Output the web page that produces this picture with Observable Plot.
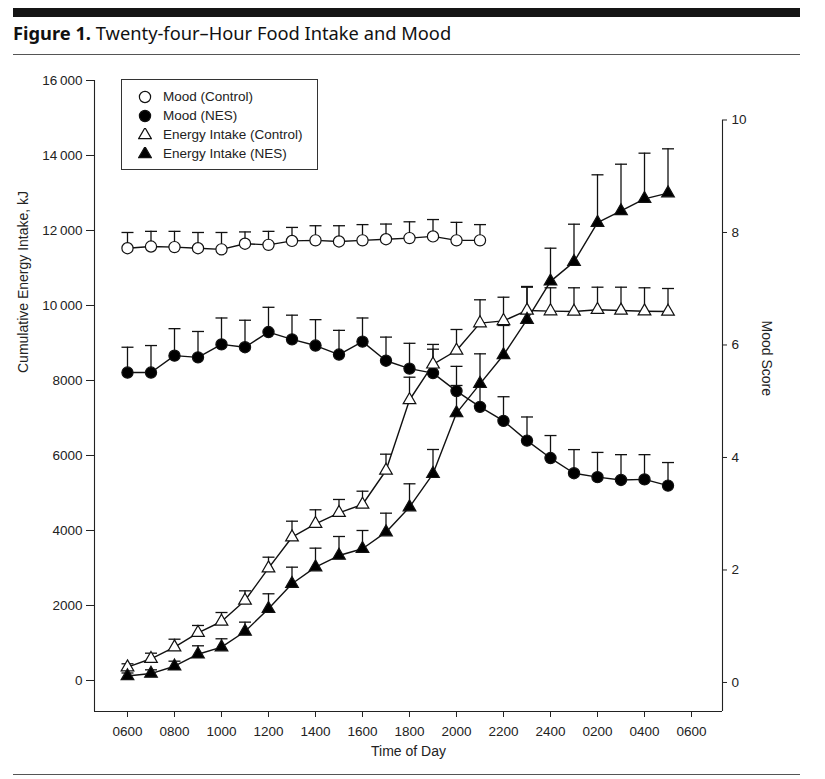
<!DOCTYPE html>
<html>
<head>
<meta charset="utf-8">
<script src="https://cdn.jsdelivr.net/npm/d3@7"></script>
<script src="https://cdn.jsdelivr.net/npm/@observablehq/plot@0.6"></script>
<style>
  body { margin: 0; background: #fff; }
  #page { position: relative; width: 825px; height: 779px; overflow: hidden; font-family: "Liberation Sans", Arial, sans-serif; color: #222; }
  .bar { position: absolute; left: 13px; top: 8px; width: 787px; height: 9px; background: #151515; }
  .title { position: absolute; left: 13px; top: 21px; font-family: "Noto Sans", sans-serif; font-size: 18.3px; line-height: 23px; color: #111; white-space: nowrap; }
  .title b { font-weight: 700; }
  .rule1 { position: absolute; left: 13px; top: 54px; width: 787px; height: 1px; background: #555; }
  .rule2 { position: absolute; left: 13px; top: 774px; width: 787px; height: 1px; background: #555; }
  #chart { position: absolute; left: 0; top: 62px; }
  .legend { position: absolute; left: 121px; top: 79px; width: 197px; height: 91px; border: 1px solid #333; box-sizing: border-box; padding-top: 7px; background: #fff; font-size: 13.5px; color: #222; }
  .legend .row { display: flex; align-items: center; height: 19px; }
  .legend svg { margin-left: 16px; margin-right: 11px; }
</style>
</head>
<body>
<div id="page">
  <div class="bar"></div>
  <div class="title"><b>Figure 1.</b> Twenty-four–Hour Food Intake and Mood</div>
  <div class="rule1"></div>
  <div id="chart"></div>
  <div class="legend" id="legend"></div>
  <div class="rule2"></div>
</div>
<script>
// ---- data ----
const hours = [6,7,8,9,10,11,12,13,14,15,16,17,18,19,20,21,22,23,24,25,26,27,28,29];

const moodControl    = [7.72,7.75,7.74,7.72,7.70,7.80,7.78,7.85,7.86,7.84,7.86,7.88,7.90,7.93,7.86,7.86];
const moodControlTop = [8.00,8.02,8.02,8.00,8.00,8.01,8.02,8.09,8.12,8.12,8.14,8.15,8.19,8.23,8.18,8.14];

const moodNES    = [5.51,5.51,5.81,5.78,6.01,5.96,6.23,6.10,5.99,5.83,6.06,5.72,5.58,5.50,5.18,4.90,4.65,4.30,3.99,3.72,3.65,3.60,3.61,3.50];
const moodNESTop = [5.96,5.99,6.29,6.24,6.48,6.44,6.67,6.53,6.45,6.26,6.48,6.14,6.03,6.01,5.62,5.27,5.08,4.72,4.39,4.14,4.09,4.05,4.05,3.91];

const energyControl    = [355,579,888,1272,1573,2133,2995,3821,4179,4472,4693,5600,7480,8430,8800,9530,9590,9867,9850,9840,9885,9867,9848,9840];
const energyControlTop = [445,728,1101,1467,1813,2391,3288,4248,4552,4827,5048,6035,8088,8835,9360,10152,10221,10488,10472,10472,10488,10488,10472,10453];

const energyNES    = [120,185,380,700,888,1307,1912,2579,3022,3333,3512,3955,4622,5511,7130,7911,8680,9622,10644,11164,12208,12520,12845,12995];
const energyNESTop = [200,284,515,925,1112,1556,2312,3022,3529,3840,4000,4462,5245,6160,7867,8711,9467,10507,11528,12168,13485,13768,14062,14178];

const energyTicks = [0,2000,4000,6000,8000,10000,12000,14000,16000];
const moodTicks = [0,2,4,6,8,10];
const timeTicks = [6,8,10,12,14,16,18,20,22,24,26,28,30];
const timeTickLabels = ["0600","0800","1000","1200","1400","1600","1800","2000","2200","2400","0200","0400","0600"];

const legendLabels = ["Mood (Control)","Mood (NES)","Energy Intake (Control)","Energy Intake (NES)"];

// ---- build ----
// mood (right axis) expressed in the left-axis units
const toE = m => 1500 * m - 53;
const xDomain = [4.596, 31.319];
const yDomain = [-827, 16000];

const rows = (vals, tops, f = v => v) => vals.map((v, i) => ({hour: hours[i], v: f(v), top: f(tops[i])}));
const sMoodC = rows(moodControl, moodControlTop, toE);
const sMoodN = rows(moodNES, moodNESTop, toE);
const sEnC = rows(energyControl, energyControlTop);
const sEnN = rows(energyNES, energyNESTop);
const series = [sMoodC, sMoodN, sEnC, sEnN];
const styles = [
  {symbol: "circle", fill: "white", r: 5.6},
  {symbol: "circle", fill: "black", r: 5.6},
  {symbol: "triangle", fill: "white", r: 4.7},
  {symbol: "triangle", fill: "black", r: 4.7}
];

const cap = { draw(context) { context.moveTo(-6, 0); context.lineTo(6, 0); } };

const energyFmt = d => d >= 10000 ? `${Math.floor(d / 1000)}\u2009000` : String(d);

const marks = [];
// axis lines
marks.push(Plot.ruleY([yDomain[0]], {stroke: "#222", strokeWidth: 1.1}));
marks.push(Plot.ruleX([xDomain[0]], {y1: yDomain[0], y2: yDomain[1], stroke: "#222", strokeWidth: 1.1}));
marks.push(Plot.ruleX([xDomain[1]], {y1: yDomain[0], y2: toE(10), stroke: "#222", strokeWidth: 1.1}));
// error bars
for (const s of series) {
  marks.push(Plot.ruleX(s, {x: "hour", y1: "v", y2: "top", stroke: "#111", strokeWidth: 1.3}));
  marks.push(Plot.dot(s, {x: "hour", y: "top", symbol: cap, stroke: "#111", strokeWidth: 1.3, fill: "none"}));
}
// lines
for (const s of series) {
  marks.push(Plot.line(s, {x: "hour", y: "v", stroke: "#111", strokeWidth: 1.4}));
}
// markers
series.forEach((s, i) => {
  marks.push(Plot.dot(s, {x: "hour", y: "v", symbol: styles[i].symbol, r: styles[i].r, fill: styles[i].fill, stroke: "#111", strokeWidth: 1.2}));
});
// axes
marks.push(Plot.axisY({anchor: "left", ticks: energyTicks, tickFormat: energyFmt, tickSize: 8, tickPadding: 4, label: null}));
marks.push(Plot.axisY({anchor: "right", ticks: moodTicks.map(toE), tickFormat: e => String(Math.round((e + 53) / 1500)), tickSize: 4, tickPadding: 5, label: null}));
marks.push(Plot.axisX({ticks: timeTicks, tickFormat: (d, i) => timeTickLabels[timeTicks.indexOf(d)], tickSize: 6, tickPadding: 9, label: null}));
// axis titles
marks.push(Plot.text(["Cumulative Energy Intake, kJ"], {frameAnchor: "left", rotate: -90, dx: -71, dy: -23, fontSize: 14, fill: "#222"}));
marks.push(Plot.text(["Mood Score"], {frameAnchor: "right", rotate: 90, dx: 44, fontSize: 14, fill: "#222"}));
marks.push(Plot.text(["Time of Day"], {frameAnchor: "bottom", lineAnchor: "top", dy: 35, fontSize: 14, fill: "#222"}));

const chart = Plot.plot({
  width: 825,
  height: 704,
  marginTop: 18,
  marginBottom: 55,
  marginLeft: 94,
  marginRight: 103,
  x: {domain: xDomain},
  y: {domain: yDomain},
  style: {fontFamily: "Liberation Sans, Arial, sans-serif", fontSize: "13.5px", color: "#222", background: "transparent"},
  marks
});
document.getElementById("chart").append(chart);

// legend
const legend = document.getElementById("legend");
legendLabels.forEach((label, i) => {
  const row = document.createElement("div");
  row.className = "row";
  const st = styles[i];
  const path = d3.symbol(st.symbol === "circle" ? d3.symbolCircle : d3.symbolTriangle, st.r * st.r * Math.PI)();
  row.innerHTML = `<svg width="14" height="14" viewBox="-7 -7 14 14"><path d="${path}" fill="${st.fill}" stroke="#111" stroke-width="1.2"/></svg><span>${label}</span>`;
  legend.append(row);
});
</script>
</body>
</html>
